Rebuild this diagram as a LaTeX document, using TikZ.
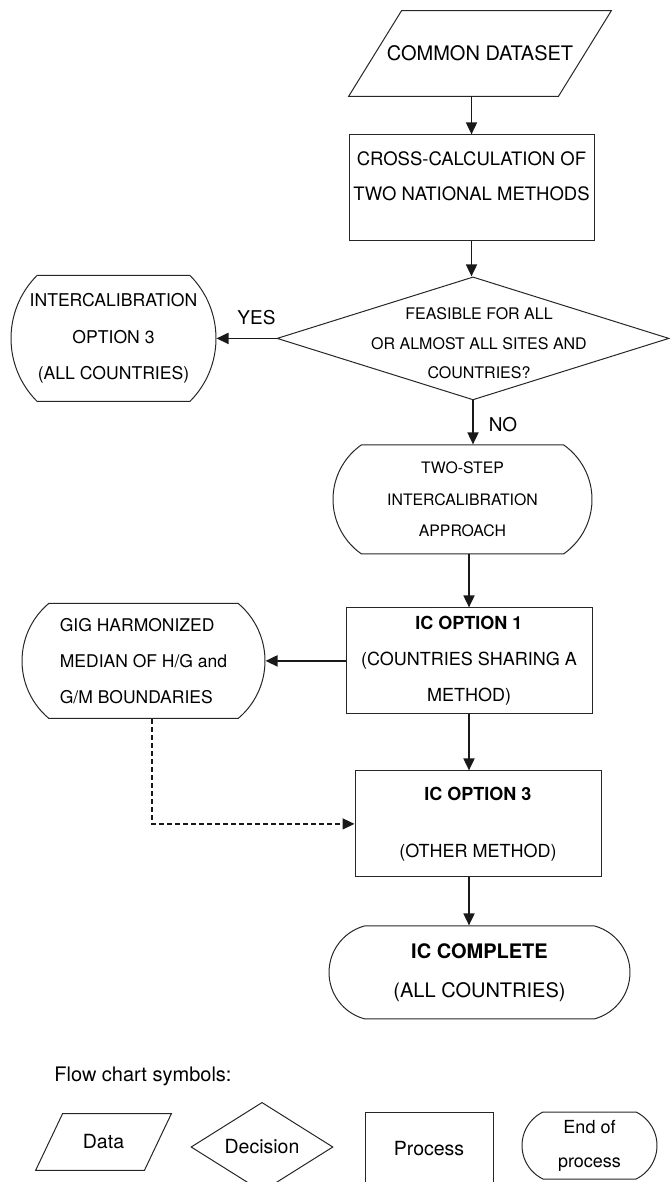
\documentclass[tikz,border=0pt]{standalone}
\usepackage{fontspec}
\setmainfont{TeX Gyre Heros}
\usetikzlibrary{shapes,shapes.geometric,shapes.misc,arrows.meta,positioning,calc}
\tikzstyle{databox} = [rectangle, inner sep=0pt]
\tikzstyle{dataline} = [draw=black!85, line width=0.5pt, line join=miter]
\tikzstyle{processbox} = [rectangle, draw=black!85, line width=0.5pt, align=center, inner sep=0pt]
\tikzstyle{decisionbox} = [diamond, draw=black!85, line width=0.5pt, inner sep=0pt]
\tikzstyle{endbox} = [rounded rectangle, draw=black!85, line width=0.5pt, align=center, inner sep=0pt]
\tikzstyle{arrow} = [line width=0.9pt, -{Triangle[length=6pt,width=5.5pt]}, color=black!90]
\tikzstyle{arrowdashed} = [arrow, line width=0.7pt, dash pattern=on 2.5pt off 1.5pt]
\newcommand{\fsz}[2]{\fontsize{#1}{#2}\selectfont}
% parallelogram round a data node: node name, slant
\newcommand{\slantbox}[2]{\draw[dataline] ([xshift=#2]#1.north west) -- (#1.north east) -- ([xshift=-#2]#1.south east) -- (#1.south west) -- cycle;}

\begin{document}
\begin{tikzpicture}[x=0.5pt, y=-0.5pt, node distance=20pt]
\useasboundingbox (0,0) rectangle (670,1182);

% Main column
\node[databox, minimum width=131pt, minimum height=42.5pt, font=\fsz{10}{12}] (data) at (480,53.5) {COMMON DATASET\\[-8pt]\mbox{}};
\slantbox{data}{26.5pt}
\node[processbox, minimum width=122.5pt, minimum height=53pt, font=\fsz{9.25}{17.5}, below=19pt of data, xshift=-4.25pt] (cross) {CROSS-CALCULATION OF\\TWO NATIONAL METHODS\\[-6pt]\mbox{}};
\node[decisionbox, minimum width=196pt, minimum height=61.5pt, below=17.5pt of cross, xshift=0.75pt] (feasible) {};
\node[font=\fsz{8}{14.75}, align=center] (feasibletxt) at ([xshift=3pt, yshift=-2.5pt]feasible.center) {FEASIBLE FOR ALL\\OR ALMOST ALL SITES AND\\COUNTRIES?};
\node[endbox, rounded rectangle arc length=90, minimum width=102.5pt, minimum height=63pt, font=\fsz{8.8}{18.25}, left=30pt of feasible] (optthree) {INTERCALIBRATION\\OPTION 3\\(ALL COUNTRIES)};
\node[font=\fsz{9.5}{11}] (yes) at ([xshift=-10pt, yshift=10.5pt]feasible.west) {YES};
\node[endbox, rounded rectangle arc length=110, minimum width=129.5pt, minimum height=54.5pt, font=\fsz{7.9}{15.75}, below=22pt of feasible, xshift=-5.25pt] (twostep) {TWO-STEP\\INTERCALIBRATION\\APPROACH};
\node[font=\fsz{9.5}{11}] (no) at ([xshift=15pt, yshift=-12pt]feasible.south) {NO};
\node[processbox, minimum width=123pt, minimum height=53pt, font=\fsz{9}{18}, below=26.5pt of twostep, xshift=3.25pt] (optone) {\textbf{IC OPTION 1}\\(COUNTRIES SHARING A\\METHOD)};
\node[endbox, rounded rectangle arc length=100, minimum width=121.5pt, minimum height=57.5pt, font=\fsz{8.75}{18}, align=left, left=40pt of optone] (gig) {GIG HARMONIZED\\MEDIAN OF H/G and\\G/M BOUNDARIES};
\node[processbox, minimum width=123pt, minimum height=53pt, font=\fsz{9}{28.5}, below=28pt of optone, xshift=4.5pt] (optthreeb) {\textbf{IC OPTION 3}\\(OTHER METHOD)};
\node[endbox, rounded rectangle arc length=150, minimum width=150.5pt, minimum height=46.5pt, font=\fsz{10}{19.5}, below=24pt of optthreeb, xshift=0.75pt] (complete) {\textbf{IC COMPLETE}\\(ALL COUNTRIES)};

% Arrows
\draw[arrow] (cross.north |- data.south) -- (cross.north);
\draw[arrow] (cross.south) -- (cross.south |- feasible.north);
\draw[arrow] (feasible.west) -- (optthree.east);
\draw[arrow] (feasible.south) -- (feasible.south |- twostep.north);
\draw[arrow] (optone.north |- twostep.south) -- (optone.north);
\draw[arrow] (optone.west) -- (gig.east);
\draw[arrow] (optone.south) -- (optone.south |- optthreeb.north);
\draw[arrowdashed] ([xshift=4.25pt]gig.south) |- (optthreeb.west);
\draw[arrow] (optone.south |- optthreeb.south) -- (optone.south |- complete.north);

% Legend
\node[font=\fsz{10}{12}, inner sep=0pt, anchor=west] (legtitle) at (54,1076) {Flow chart symbols:};
\node[databox, minimum width=67.5pt, minimum height=28pt, font=\fsz{9.75}{12}] (legdata) at (103.5,1142) {Data};
\slantbox{legdata}{13.5pt}
\node[decisionbox, minimum width=71pt, minimum height=40pt, font=\fsz{9.75}{12}] (legdecision) at (262,1147) {Decision};
\node[processbox, minimum width=64pt, minimum height=37pt, font=\fsz{9.75}{12}] (legprocess) at (429,1149) {Process};
\node[endbox, rounded rectangle arc length=128, minimum width=67.5pt, minimum height=33.5pt, font=\fsz{9}{17}] (legend) at (589.5,1145.5) {End of\\process};

\end{tikzpicture}
\end{document}
